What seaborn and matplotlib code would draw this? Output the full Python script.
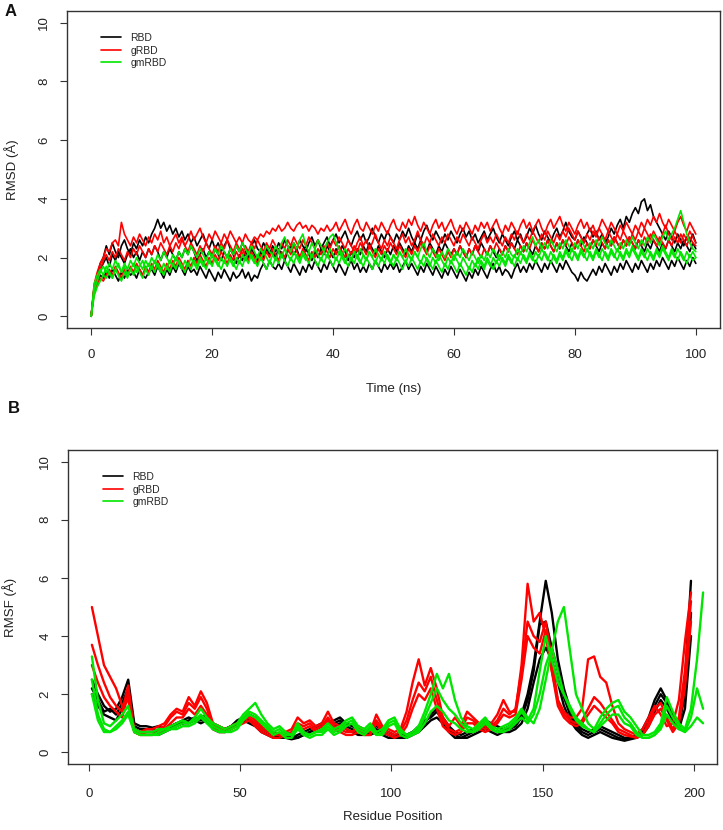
import matplotlib
matplotlib.use("Agg")
import matplotlib.pyplot as plt
import pandas as pd
import seaborn as sns
from matplotlib import font_manager
from matplotlib.lines import Line2D

# ---------------- data: panel A (RMSD, sampled every 0.5 ns) ----------------
time_ns = [i * 0.5 for i in range(201)]

rmsd_rbd_1 = [
    0.0, 1.0, 1.4, 1.8, 2.0, 2.4, 2.1, 2.5, 2.2, 2.0, 2.4, 2.6, 2.3, 2.1, 2.5, 2.3, 2.6, 2.4, 2.7, 2.5,
    2.8, 3.0, 3.3, 3.0, 3.2, 2.9, 3.1, 2.8, 3.0, 2.7, 2.9, 2.6, 2.8, 2.5, 2.7, 2.4, 2.6, 2.8, 2.5, 2.3,
    2.6, 2.3, 2.5, 2.2, 2.4, 2.6, 2.3, 2.1, 2.4, 2.2, 2.5, 2.3, 2.1, 2.4, 2.6, 2.3, 2.2, 2.5, 2.3, 2.1,
    2.4, 2.2, 2.5, 2.3, 2.6, 2.4, 2.2, 2.5, 2.3, 2.6, 2.4, 2.2, 2.5, 2.7, 2.4, 2.6, 2.3, 2.5, 2.7, 2.4,
    2.6, 2.8, 2.5, 2.7, 2.9, 2.6, 2.4, 2.7, 2.9, 2.6, 2.8, 2.5, 2.7, 3.0, 2.7, 2.5, 2.8, 2.6, 2.9, 2.7,
    2.5, 2.8, 2.6, 2.9, 2.7, 3.0, 2.7, 2.5, 2.8, 2.6, 2.9, 3.1, 2.8, 2.6, 2.9, 2.7, 2.5, 2.8, 2.6, 2.9,
    2.7, 2.5, 2.8, 3.0, 2.7, 2.9, 2.6, 2.8, 2.5, 2.7, 2.9, 2.6, 2.8, 3.0, 2.7, 2.5, 2.8, 2.6, 2.4, 2.7,
    2.9, 2.6, 2.8, 2.5, 2.7, 3.0, 2.8, 3.1, 2.8, 2.6, 2.9, 2.7, 2.5, 2.8, 3.0, 2.7, 2.9, 3.2, 2.9, 2.7,
    2.6, 2.9, 2.7, 2.5, 2.8, 3.0, 2.7, 2.9, 2.6, 2.8, 2.5, 2.7, 3.0, 2.8, 3.1, 3.3, 3.0, 3.4, 3.2, 3.5,
    3.7, 3.5, 3.9, 4.0, 3.6, 3.8, 3.4, 3.2, 3.0, 2.8, 2.6, 2.9, 2.7, 2.5, 2.8, 2.6, 2.4, 2.7, 2.5, 2.8,
    2.5]
rmsd_rbd_2 = [
    0.0, 0.9, 1.2, 1.4, 1.3, 1.5, 1.3, 1.6, 1.4, 1.2, 1.5, 1.3, 1.6, 1.4, 1.5, 1.3, 1.6, 1.4, 1.3, 1.5,
    1.6, 1.4, 1.7, 1.5, 1.3, 1.6, 1.4, 1.7, 1.5, 1.8, 1.6, 1.4, 1.7, 1.5, 1.6, 1.4, 1.7, 1.5, 1.3, 1.6,
    1.4, 1.2, 1.5, 1.3, 1.6, 1.4, 1.2, 1.5, 1.3, 1.4, 1.6, 1.3, 1.5, 1.2, 1.4, 1.3, 1.6, 1.8, 1.6, 1.9,
    1.7, 1.6, 1.8, 1.6, 1.9, 1.7, 1.5, 1.8, 1.6, 1.4, 1.7, 1.5, 1.8, 1.6, 1.9, 1.7, 1.5, 1.8, 1.6, 1.9,
    1.7, 1.5, 1.8, 1.6, 1.4, 1.7, 1.9, 1.6, 1.8, 1.5, 1.7, 1.5, 1.8, 1.6, 1.9, 1.7, 1.5, 1.8, 1.6, 1.8,
    1.6, 1.8, 1.5, 1.7, 1.9, 1.6, 1.8, 1.6, 1.4, 1.7, 1.5, 1.8, 1.6, 1.4, 1.7, 1.5, 1.3, 1.6, 1.4, 1.7,
    1.5, 1.3, 1.6, 1.4, 1.2, 1.5, 1.3, 1.6, 1.4, 1.7, 1.5, 1.3, 1.6, 1.8, 1.5, 1.7, 1.4, 1.6, 1.5, 1.3,
    1.6, 1.8, 1.5, 1.7, 1.5, 1.8, 1.6, 1.9, 1.7, 1.5, 1.8, 1.6, 1.9, 1.7, 1.5, 1.8, 1.6, 1.9, 1.7, 1.5,
    1.4, 1.2, 1.5, 1.3, 1.2, 1.4, 1.6, 1.4, 1.7, 1.5, 1.8, 1.6, 1.4, 1.7, 1.5, 1.8, 1.6, 1.9, 1.7, 1.5,
    1.8, 1.6, 1.9, 1.7, 1.5, 1.8, 1.6, 1.9, 1.7, 2.0, 1.8, 1.6, 1.9, 1.7, 2.0, 1.8, 1.6, 1.9, 1.7, 2.0,
    1.8]
rmsd_rbd_3 = [
    0.0, 1.0, 1.3, 1.6, 1.8, 2.0, 1.7, 2.1, 1.9, 2.2, 2.0, 1.8, 2.1, 2.3, 2.0, 2.2, 1.9, 2.2, 2.0, 2.3,
    2.1, 2.4, 2.2, 1.9, 2.2, 2.0, 2.3, 2.1, 1.9, 2.2, 2.0, 2.3, 2.1, 2.4, 2.2, 1.9, 2.1, 2.3, 2.0, 2.2,
    2.0, 2.3, 2.1, 1.9, 2.2, 2.0, 2.3, 2.1, 1.8, 2.1, 1.9, 2.2, 2.0, 2.3, 2.1, 1.9, 2.2, 2.0, 2.3, 2.1,
    2.2, 2.0, 2.3, 2.1, 1.9, 2.2, 2.4, 2.1, 2.3, 2.0, 2.2, 2.4, 2.1, 1.9, 2.2, 2.0, 2.3, 2.1, 2.4, 2.2,
    2.0, 2.3, 2.1, 2.4, 2.2, 1.9, 2.2, 2.0, 2.3, 2.1, 2.4, 2.2, 2.5, 2.3, 2.1, 2.4, 2.2, 2.0, 2.3, 2.1,
    2.4, 2.2, 2.5, 2.3, 2.1, 2.4, 2.2, 2.5, 2.3, 2.6, 2.4, 2.2, 2.5, 2.3, 2.1, 2.4, 2.2, 2.5, 2.3, 2.1,
    2.3, 2.1, 2.4, 2.2, 2.0, 2.3, 2.1, 2.4, 2.2, 2.5, 2.3, 2.1, 2.4, 2.2, 2.0, 2.3, 2.1, 2.4, 2.2, 2.5,
    2.3, 2.6, 2.4, 2.2, 2.5, 2.3, 2.1, 2.4, 2.2, 2.5, 2.3, 2.6, 2.4, 2.2, 2.5, 2.3, 2.6, 2.4, 2.2, 2.5,
    2.3, 2.6, 2.4, 2.7, 2.5, 2.3, 2.6, 2.4, 2.2, 2.5, 2.3, 2.6, 2.4, 2.7, 2.5, 2.3, 2.6, 2.4, 2.7, 2.5,
    2.3, 2.6, 2.4, 2.2, 2.5, 2.3, 2.6, 2.4, 2.2, 2.5, 2.3, 2.6, 2.4, 2.2, 2.5, 2.3, 2.6, 2.4, 2.2, 2.5,
    2.3]
rmsd_grbd_1 = [
    0.0, 1.1, 1.5, 1.8, 2.0, 2.3, 2.2, 2.5, 2.6, 2.4, 3.2, 2.8, 2.6, 2.4, 2.7, 2.5, 2.8, 2.6, 2.4, 2.7,
    2.5, 2.8, 2.6, 2.9, 2.5, 2.7, 2.4, 2.6, 2.8, 2.5, 2.7, 2.4, 2.6, 2.9, 2.6, 2.8, 3.0, 2.7, 2.5, 2.8,
    2.6, 2.9, 2.7, 2.5, 2.8, 2.6, 2.9, 2.7, 2.5, 2.7, 2.5, 2.8, 2.6, 2.5, 2.7, 2.6, 2.8, 2.7, 2.9, 2.8,
    3.0, 2.9, 3.1, 2.9, 3.0, 3.2, 3.0, 2.9, 3.1, 3.2, 3.0, 3.1, 2.9, 3.1, 3.0, 2.8, 3.0, 2.9, 3.1, 2.9,
    3.0, 3.2, 2.9, 3.1, 3.3, 3.0, 2.8, 3.1, 3.3, 3.0, 2.9, 3.2, 3.0, 2.8, 3.1, 2.9, 3.2, 3.0, 2.8, 3.1,
    3.3, 3.0, 2.9, 3.2, 3.0, 3.3, 3.1, 3.4, 3.1, 2.9, 3.2, 3.0, 2.8, 3.1, 3.3, 3.0, 3.2, 2.9, 3.1, 3.3,
    3.0, 2.8, 3.1, 2.9, 3.2, 3.0, 2.8, 3.1, 2.9, 3.2, 3.0, 3.2, 2.9, 3.1, 3.3, 3.0, 2.8, 3.1, 2.9, 3.2,
    3.0, 2.8, 3.1, 3.3, 3.0, 3.2, 2.9, 3.1, 3.3, 3.0, 2.8, 3.1, 3.3, 3.0, 3.2, 3.4, 3.1, 2.9, 3.2, 3.0,
    2.8, 3.1, 3.3, 3.0, 3.2, 2.9, 3.1, 2.8, 3.0, 3.3, 3.1, 2.9, 3.2, 3.0, 2.8, 3.1, 2.9, 3.2, 3.0, 2.8,
    3.1, 2.9, 3.2, 3.0, 3.3, 3.1, 3.4, 3.2, 3.5, 3.2, 3.0, 3.3, 3.1, 2.9, 3.2, 3.4, 3.1, 2.9, 3.2, 3.0,
    2.8]
rmsd_grbd_2 = [
    0.0, 1.0, 1.3, 1.6, 1.9, 2.1, 1.9, 2.2, 2.0, 2.3, 2.1, 1.9, 2.2, 2.0, 2.3, 2.1, 2.4, 2.2, 2.0, 2.3,
    2.1, 2.4, 2.2, 2.5, 2.3, 2.1, 2.4, 2.2, 2.5, 2.3, 2.6, 2.4, 2.2, 2.5, 2.3, 2.1, 2.4, 2.2, 2.5, 2.3,
    2.1, 2.4, 2.2, 2.5, 2.3, 2.6, 2.4, 2.2, 2.5, 2.3, 2.1, 2.4, 2.2, 2.5, 2.3, 2.6, 2.4, 2.2, 2.5, 2.3,
    2.6, 2.4, 2.2, 2.5, 2.3, 2.6, 2.4, 2.7, 2.5, 2.3, 2.6, 2.4, 2.7, 2.5, 2.3, 2.6, 2.4, 2.2, 2.5, 2.3,
    2.6, 2.4, 2.7, 2.5, 2.3, 2.6, 2.4, 2.2, 2.5, 2.7, 2.4, 2.6, 2.3, 2.5, 2.8, 2.5, 2.3, 2.6, 2.4, 2.7,
    2.5, 2.3, 2.6, 2.8, 2.5, 2.7, 2.4, 2.6, 2.9, 2.6, 2.4, 2.7, 2.5, 2.8, 2.6, 2.4, 2.7, 2.5, 2.8, 2.6,
    2.4, 2.7, 2.5, 2.8, 2.6, 2.4, 2.7, 2.5, 2.3, 2.6, 2.8, 2.5, 2.7, 2.5, 2.8, 2.6, 2.4, 2.7, 2.5, 2.8,
    2.6, 2.9, 2.7, 2.5, 2.8, 2.6, 2.9, 2.7, 2.5, 2.8, 2.6, 2.9, 2.7, 2.5, 2.8, 2.6, 2.9, 2.7, 3.0, 2.8,
    2.6, 2.9, 2.7, 2.5, 2.8, 2.6, 2.9, 2.7, 3.0, 2.8, 2.6, 2.9, 2.7, 2.5, 2.8, 2.6, 2.9, 2.7, 2.5, 2.8,
    2.6, 2.9, 2.7, 3.0, 2.8, 2.6, 2.9, 2.7, 2.5, 2.8, 3.1, 2.8, 2.6, 2.9, 2.7, 2.5, 2.8, 2.6, 2.9, 2.7,
    2.5]
rmsd_grbd_3 = [
    0.0, 0.8, 1.1, 1.3, 1.2, 1.4, 1.6, 1.4, 1.7, 1.5, 1.3, 1.6, 1.4, 1.7, 1.5, 1.8, 1.6, 1.4, 1.7, 1.5,
    1.8, 1.6, 1.9, 1.7, 1.5, 1.8, 1.6, 1.9, 1.7, 2.0, 1.8, 1.6, 1.9, 1.7, 2.0, 1.8, 2.1, 1.9, 1.7, 2.0,
    1.8, 2.1, 1.9, 2.2, 2.0, 1.8, 2.1, 1.9, 2.2, 2.0, 2.3, 2.1, 1.9, 2.2, 2.0, 1.8, 2.1, 1.9, 2.2, 2.0,
    2.3, 2.1, 1.9, 2.2, 2.0, 2.3, 2.1, 2.4, 2.2, 2.0, 2.3, 2.1, 1.9, 2.2, 2.0, 2.3, 2.1, 2.4, 2.2, 2.0,
    2.3, 2.1, 2.4, 2.2, 2.0, 2.3, 2.1, 2.4, 2.2, 2.5, 2.3, 2.1, 2.4, 2.2, 2.0, 2.3, 2.1, 2.4, 2.2, 2.5,
    2.3, 2.1, 2.4, 2.2, 2.0, 2.3, 2.1, 2.4, 2.2, 2.5, 2.3, 2.1, 2.4, 2.2, 2.0, 2.3, 2.1, 1.9, 2.2, 2.0,
    2.3, 2.1, 2.4, 2.2, 2.0, 2.3, 2.1, 2.4, 2.2, 2.0, 2.3, 2.1, 2.4, 2.2, 2.5, 2.3, 2.1, 2.4, 2.2, 2.5,
    2.3, 2.1, 2.4, 2.2, 2.5, 2.3, 2.6, 2.4, 2.2, 2.5, 2.3, 2.6, 2.4, 2.2, 2.5, 2.3, 2.6, 2.4, 2.7, 2.5,
    2.3, 2.6, 2.4, 2.2, 2.5, 2.3, 2.6, 2.4, 2.7, 2.5, 2.3, 2.6, 2.4, 2.7, 2.5, 2.3, 2.6, 2.4, 2.7, 2.5,
    2.3, 2.6, 2.4, 2.7, 2.5, 2.8, 2.6, 2.4, 2.7, 2.5, 2.3, 2.6, 2.4, 2.7, 2.5, 2.8, 2.6, 2.4, 2.7, 2.5,
    2.4]
rmsd_gmrbd_1 = [
    0.0, 0.9, 1.2, 1.5, 1.7, 1.5, 1.8, 1.6, 1.9, 1.7, 1.5, 1.8, 1.6, 1.9, 1.7, 2.0, 1.8, 1.6, 1.9, 1.7,
    2.0, 1.8, 2.1, 1.9, 2.2, 2.0, 1.8, 2.1, 1.9, 2.2, 2.0, 2.3, 2.1, 2.4, 2.2, 2.0, 2.3, 2.1, 1.9, 2.2,
    2.0, 2.3, 2.1, 2.4, 2.2, 2.0, 2.3, 2.1, 2.4, 2.2, 2.5, 2.3, 2.1, 2.4, 2.2, 2.0, 2.3, 2.1, 2.4, 2.2,
    2.1, 2.4, 2.2, 2.5, 2.7, 2.4, 2.2, 2.5, 2.3, 2.6, 2.8, 2.4, 2.2, 2.5, 2.3, 2.6, 2.4, 2.2, 2.5, 2.7,
    2.8, 2.5, 2.3, 2.1, 2.3, 2.1, 1.9, 2.2, 2.0, 2.3, 2.1, 1.9, 2.2, 2.0, 2.3, 2.1, 1.9, 2.2, 2.0, 1.8,
    2.1, 1.9, 2.2, 2.0, 2.3, 2.1, 1.9, 2.2, 2.0, 2.3, 2.5, 2.2, 2.0, 2.3, 2.1, 1.9, 2.2, 2.0, 2.3, 2.1,
    1.9, 2.2, 2.0, 2.3, 2.1, 1.9, 2.2, 2.0, 1.8, 2.1, 1.9, 2.2, 2.0, 2.3, 2.1, 1.9, 2.2, 2.0, 2.3, 2.1,
    2.0, 2.3, 2.1, 2.4, 2.2, 2.5, 2.7, 2.4, 2.6, 2.3, 2.5, 2.3, 2.6, 2.4, 2.2, 2.5, 2.3, 2.6, 2.4, 2.2,
    2.5, 2.3, 2.6, 2.4, 2.2, 2.5, 2.3, 2.6, 2.4, 2.7, 2.5, 2.3, 2.6, 2.4, 2.2, 2.5, 2.3, 2.6, 2.4, 2.7,
    2.5, 2.3, 2.6, 2.4, 2.7, 2.5, 2.8, 2.6, 2.4, 2.7, 2.9, 2.6, 2.8, 3.0, 3.3, 3.6, 3.2, 2.8, 2.5, 2.3,
    2.2]
rmsd_gmrbd_2 = [
    0.0, 1.1, 1.4, 1.6, 1.4, 1.7, 1.5, 1.3, 1.6, 1.8, 1.5, 1.7, 1.4, 1.6, 1.8, 1.5, 1.7, 1.9, 1.6, 1.8,
    1.6, 1.9, 1.7, 1.5, 1.8, 1.6, 1.9, 1.7, 2.0, 1.8, 1.6, 1.9, 1.7, 2.0, 1.8, 1.6, 1.9, 1.7, 2.0, 1.8,
    2.1, 1.9, 1.7, 2.0, 1.8, 2.1, 1.9, 1.7, 2.0, 1.8, 2.1, 1.9, 2.2, 2.0, 1.8, 2.1, 1.9, 2.2, 2.0, 1.8,
    2.1, 1.9, 2.2, 2.0, 2.3, 2.1, 1.9, 2.2, 2.0, 1.8, 2.1, 1.9, 2.2, 2.0, 2.3, 2.1, 1.9, 2.2, 2.0, 2.3,
    2.1, 1.9, 2.2, 2.0, 1.8, 2.1, 1.9, 2.2, 2.0, 1.8, 2.1, 1.9, 2.2, 2.0, 1.8, 2.1, 1.9, 2.2, 2.0, 1.8,
    2.1, 1.9, 2.2, 2.0, 1.8, 2.1, 1.9, 2.2, 2.0, 1.8, 2.1, 1.9, 1.7, 2.0, 1.8, 2.1, 1.9, 1.7, 2.0, 1.8,
    2.1, 1.9, 1.7, 2.0, 1.8, 1.6, 1.9, 1.7, 2.0, 1.8, 1.6, 1.9, 1.7, 2.0, 1.8, 2.1, 1.9, 1.7, 2.0, 1.8,
    2.1, 1.9, 2.2, 2.0, 1.8, 2.1, 1.9, 2.2, 2.0, 2.3, 2.1, 1.9, 2.2, 2.0, 1.8, 2.1, 1.9, 2.2, 2.0, 2.3,
    2.1, 1.9, 2.2, 2.0, 2.3, 2.1, 1.9, 2.2, 2.0, 2.3, 2.1, 1.9, 2.2, 2.0, 2.3, 2.1, 1.9, 2.2, 2.0, 2.3,
    2.1, 1.9, 2.2, 2.0, 2.3, 2.1, 1.9, 2.2, 2.0, 2.3, 2.1, 1.9, 2.2, 2.0, 2.3, 2.1, 1.9, 2.2, 2.0, 2.2,
    2.0]
rmsd_gmrbd_3 = [
    0.0, 0.7, 1.0, 1.2, 1.4, 1.3, 1.5, 1.3, 1.6, 1.4, 1.2, 1.5, 1.3, 1.6, 1.4, 1.7, 1.5, 1.3, 1.6, 1.4,
    1.7, 1.5, 1.8, 1.6, 1.4, 1.7, 1.5, 1.8, 1.6, 1.9, 1.7, 1.5, 1.8, 1.6, 1.9, 1.7, 2.0, 1.8, 1.6, 1.9,
    1.7, 2.0, 1.8, 1.6, 1.9, 1.7, 2.0, 1.8, 1.6, 1.9, 1.7, 2.0, 1.8, 2.1, 1.9, 1.7, 2.0, 1.8, 1.6, 1.9,
    1.7, 2.0, 1.8, 2.1, 1.9, 1.7, 2.0, 1.8, 2.1, 1.9, 2.2, 2.0, 1.8, 2.1, 1.9, 1.7, 2.0, 1.8, 2.1, 1.9,
    1.7, 2.0, 1.8, 2.1, 1.9, 1.7, 2.0, 1.8, 2.1, 1.9, 1.7, 2.0, 1.8, 1.6, 1.9, 1.7, 2.0, 1.8, 2.1, 1.9,
    1.7, 2.0, 1.8, 1.6, 1.9, 1.7, 2.0, 1.8, 1.6, 1.9, 1.7, 2.0, 1.8, 1.6, 1.9, 1.7, 1.5, 1.8, 1.6, 1.9,
    1.7, 1.5, 1.8, 1.6, 1.4, 1.7, 1.5, 1.8, 1.6, 1.9, 1.7, 2.0, 1.8, 1.6, 1.9, 1.7, 2.0, 1.8, 2.1, 1.9,
    1.7, 2.0, 1.8, 2.1, 1.9, 2.2, 2.0, 1.8, 2.1, 1.9, 2.2, 2.0, 1.8, 2.1, 1.9, 2.2, 2.0, 2.3, 2.1, 1.9,
    2.2, 2.0, 2.3, 2.1, 1.9, 2.2, 2.0, 2.3, 2.1, 1.9, 2.2, 2.0, 2.3, 2.1, 1.9, 2.2, 2.0, 2.3, 2.1, 2.4,
    2.2, 2.0, 2.3, 2.1, 1.9, 2.2, 2.0, 2.3, 2.1, 2.4, 2.2, 2.0, 2.3, 2.1, 1.9, 2.2, 2.0, 1.8, 2.1, 1.9,
    2.0]

# ---------------- data: panel B (RMSF) ----------------
residues_rbd = list(range(1, 200, 2))     # RBD and gRBD
residues_gmrbd = list(range(1, 204, 2))   # gmRBD

rmsf_rbd_1 = [2.5, 2.0, 1.6, 1.4, 1.5, 1.9, 2.5, 1.0, 0.9, 0.9,
              0.85, 0.9, 0.8, 0.9, 1.0, 1.1, 1.2, 1.1, 1.2, 1.3,
              1.0, 0.9, 0.8, 0.9, 1.0, 1.1, 1.3, 1.2, 0.9, 0.8,
              0.6, 0.6, 0.7, 0.6, 0.5, 0.6, 0.7, 0.8, 0.9, 1.0,
              1.1, 1.2, 1.0, 0.9, 0.8, 0.7, 0.8, 0.9, 0.8, 0.7,
              0.6, 0.6, 0.6, 0.7, 0.8, 1.0, 1.3, 1.5, 1.2, 0.9,
              0.7, 0.6, 0.7, 0.8, 0.9, 1.1, 1.0, 0.9, 0.8, 0.9,
              1.0, 1.3, 2.0, 3.0, 4.5, 5.9, 4.8, 3.2, 2.2, 1.5,
              1.0, 0.8, 0.7, 0.8, 0.9, 0.8, 0.7, 0.6, 0.5, 0.5,
              0.6, 0.8, 1.2, 1.8, 2.2, 1.8, 1.3, 1.0, 2.5, 5.9]
rmsf_rbd_2 = [2.2, 1.8, 1.4, 1.5, 1.3, 1.7, 2.2, 0.9, 0.8, 0.8,
              0.8, 0.7, 0.8, 0.9, 1.0, 1.0, 1.1, 1.2, 1.1, 1.2,
              0.9, 0.8, 0.8, 0.9, 1.1, 1.2, 1.1, 1.0, 0.8, 0.7,
              0.6, 0.5, 0.6, 0.5, 0.6, 0.7, 0.8, 0.9, 1.0, 1.1,
              1.0, 1.1, 0.9, 0.8, 0.7, 0.6, 0.7, 0.8, 0.7, 0.6,
              0.5, 0.5, 0.6, 0.7, 0.9, 1.1, 1.2, 1.4, 1.1, 0.8,
              0.6, 0.5, 0.6, 0.7, 0.8, 0.9, 0.8, 0.7, 0.8, 0.8,
              0.9, 1.2, 1.8, 2.8, 4.4, 4.5, 3.6, 2.8, 1.9, 1.3,
              0.9, 0.7, 0.6, 0.7, 0.8, 0.7, 0.6, 0.5, 0.45, 0.5,
              0.5, 0.7, 1.0, 1.6, 2.0, 1.7, 1.2, 0.9, 2.0, 4.8]
rmsf_rbd_3 = [2.0, 1.6, 1.3, 1.2, 1.1, 1.5, 2.0, 0.8, 0.7, 0.7,
              0.7, 0.6, 0.7, 0.8, 0.9, 1.0, 1.0, 1.1, 1.0, 1.1,
              0.8, 0.7, 0.7, 0.8, 1.0, 1.1, 1.0, 0.9, 0.7, 0.6,
              0.5, 0.5, 0.5, 0.45, 0.5, 0.6, 0.7, 0.8, 0.9, 1.0,
              0.9, 1.0, 0.8, 0.7, 0.6, 0.6, 0.6, 0.7, 0.6, 0.5,
              0.5, 0.5, 0.5, 0.6, 0.7, 0.9, 1.1, 1.2, 1.0, 0.7,
              0.5, 0.5, 0.5, 0.6, 0.7, 0.8, 0.7, 0.6, 0.7, 0.7,
              0.8, 1.0, 1.5, 2.4, 3.2, 3.6, 3.2, 2.4, 1.6, 1.1,
              0.8, 0.6, 0.5, 0.6, 0.7, 0.6, 0.5, 0.45, 0.4, 0.45,
              0.5, 0.6, 0.9, 1.4, 1.8, 1.5, 1.1, 0.8, 1.5, 4.0]
rmsf_grbd_1 = [5.0, 4.0, 3.0, 2.6, 2.2, 1.6, 1.8, 0.8, 0.7, 0.8,
               0.8, 0.9, 1.0, 1.3, 1.5, 1.4, 1.9, 1.6, 2.1, 1.7,
               1.0, 0.9, 0.8, 0.9, 1.0, 1.2, 1.3, 1.1, 0.9, 0.8,
               0.7, 0.6, 0.7, 0.8, 1.2, 1.0, 1.1, 0.9, 1.0, 1.4,
               1.0, 0.9, 0.8, 0.7, 0.9, 0.8, 0.7, 1.3, 0.9, 0.8,
               0.7, 0.8, 1.4, 2.4, 3.2, 2.3, 2.9, 2.2, 1.2, 0.9,
               1.2, 0.9, 1.4, 1.2, 1.0, 0.9, 1.0, 1.3, 1.8, 1.4,
               1.4, 3.0, 5.8, 4.5, 4.8, 4.0, 2.8, 1.8, 1.4, 1.2,
               1.2, 1.5, 3.2, 3.3, 2.6, 2.4, 1.6, 1.0, 0.8, 0.7,
               0.6, 0.8, 1.2, 1.6, 1.3, 0.9, 1.0, 1.8, 3.8, 5.5]
rmsf_grbd_2 = [3.7, 3.0, 2.4, 1.9, 1.6, 1.4, 2.3, 0.7, 0.6, 0.7,
               0.7, 0.8, 0.9, 1.2, 1.4, 1.3, 1.7, 1.5, 1.9, 1.5,
               0.9, 0.8, 0.8, 0.9, 1.0, 1.1, 1.2, 1.0, 0.8, 0.7,
               0.6, 0.6, 0.6, 0.7, 1.0, 0.9, 1.0, 0.8, 0.9, 1.2,
               0.9, 0.8, 0.7, 0.7, 0.8, 0.7, 0.7, 1.1, 0.8, 0.7,
               0.6, 0.7, 1.1, 1.8, 2.4, 2.1, 2.6, 1.8, 1.1, 0.8,
               0.7, 0.8, 1.2, 1.1, 0.9, 0.8, 0.9, 1.1, 1.5, 1.3,
               1.5, 2.8, 4.5, 4.0, 3.8, 4.5, 3.2, 1.8, 1.3, 1.1,
               1.0, 1.1, 1.5, 1.9, 1.7, 1.4, 1.1, 0.8, 0.7, 0.6,
               0.5, 0.6, 1.0, 1.5, 1.7, 1.2, 0.8, 1.2, 2.8, 5.2]
rmsf_grbd_3 = [3.0, 2.4, 1.9, 1.6, 1.4, 1.2, 2.0, 0.7, 0.6, 0.6,
               0.6, 0.7, 0.8, 1.0, 1.2, 1.2, 1.5, 1.3, 1.6, 1.3,
               0.8, 0.7, 0.7, 0.8, 0.9, 1.0, 1.1, 0.9, 0.7, 0.6,
               0.5, 0.5, 0.6, 0.6, 0.9, 0.8, 0.9, 0.7, 0.8, 1.1,
               0.8, 0.7, 0.6, 0.6, 0.7, 0.6, 0.6, 1.0, 0.7, 0.6,
               0.5, 0.6, 0.9, 1.5, 2.0, 1.8, 2.2, 1.5, 0.9, 0.7,
               0.6, 0.7, 1.0, 1.0, 0.8, 0.7, 0.8, 1.0, 1.3, 1.2,
               1.3, 2.5, 4.0, 3.6, 3.4, 4.2, 2.8, 1.6, 1.2, 1.0,
               0.9, 1.0, 1.3, 1.6, 1.4, 1.2, 1.0, 0.7, 0.6, 0.55,
               0.5, 0.6, 0.9, 1.3, 1.5, 1.1, 0.7, 1.0, 2.2, 4.5]
rmsf_gmrbd_1 = [3.3, 1.8, 1.0, 0.9, 1.1, 1.3, 1.6, 0.8, 0.7, 0.7,
                0.7, 0.8, 0.8, 0.9, 1.0, 1.1, 1.0, 1.2, 1.5, 1.2,
                1.0, 0.9, 0.8, 0.9, 1.0, 1.3, 1.5, 1.7, 1.3, 1.0,
                0.8, 0.9, 0.7, 0.6, 1.0, 0.7, 0.6, 0.7, 0.8, 1.0,
                0.8, 0.9, 1.1, 1.2, 0.9, 0.8, 1.0, 0.7, 0.8, 1.1,
                1.2, 0.8, 0.6, 0.7, 0.9, 1.4, 2.0, 2.7, 2.2, 2.7,
                1.8, 1.2, 0.9, 0.8, 1.0, 1.2, 0.9, 0.8, 0.9, 1.0,
                1.2, 1.5, 1.2, 1.0, 1.5, 2.5, 3.5, 4.5, 5.0, 3.5,
                2.0, 1.5, 1.0, 0.8, 1.2, 1.5, 1.7, 1.8, 1.4, 1.2,
                0.9, 0.6, 0.6, 0.7, 1.0, 1.9, 1.4, 1.0, 0.8, 1.5,
                3.2, 5.5]
rmsf_gmrbd_2 = [2.5, 1.3, 0.8, 0.7, 0.9, 1.1, 1.4, 0.7, 0.6, 0.6,
                0.6, 0.7, 0.8, 0.8, 0.9, 1.0, 1.0, 1.1, 1.3, 1.1,
                0.9, 0.8, 0.7, 0.8, 0.9, 1.2, 1.4, 1.3, 1.1, 0.9,
                0.7, 0.8, 0.6, 0.6, 0.9, 0.6, 0.6, 0.7, 0.7, 0.9,
                0.7, 0.8, 1.0, 1.1, 0.8, 0.7, 0.9, 0.6, 0.7, 1.0,
                1.1, 0.7, 0.6, 0.6, 0.8, 1.2, 1.7, 2.2, 1.8, 1.5,
                1.3, 1.0, 0.8, 0.7, 0.9, 1.1, 0.8, 0.7, 0.8, 0.9,
                1.1, 1.4, 1.1, 1.5, 2.8, 4.0, 3.2, 2.4, 2.0, 1.6,
                1.2, 1.0, 0.8, 0.7, 1.0, 1.3, 1.5, 1.6, 1.2, 1.0,
                0.7, 0.5, 0.5, 0.6, 0.9, 1.6, 1.2, 0.9, 0.7, 1.2,
                2.2, 1.5]
rmsf_gmrbd_3 = [2.0, 1.1, 0.7, 0.7, 0.8, 1.0, 1.3, 0.7, 0.6, 0.6,
                0.6, 0.6, 0.7, 0.8, 0.8, 0.9, 0.9, 1.0, 1.2, 1.0,
                0.8, 0.7, 0.7, 0.7, 0.8, 1.1, 1.3, 1.2, 1.0, 0.8,
                0.6, 0.7, 0.5, 0.5, 0.8, 0.6, 0.5, 0.6, 0.6, 0.8,
                0.6, 0.7, 0.9, 1.0, 0.7, 0.6, 0.8, 0.6, 0.6, 0.9,
                1.0, 0.6, 0.5, 0.6, 0.7, 1.0, 1.4, 1.6, 1.4, 1.1,
                1.0, 0.8, 0.7, 0.7, 0.8, 1.0, 0.8, 0.7, 0.7, 0.8,
                1.0, 1.2, 1.0, 1.3, 2.0, 3.0, 3.6, 2.8, 2.0, 1.5,
                1.1, 0.9, 0.8, 0.7, 0.9, 1.1, 1.3, 1.3, 1.0, 0.9,
                0.6, 0.5, 0.5, 0.6, 0.8, 1.3, 1.0, 0.8, 0.7, 0.9,
                1.2, 1.0]

groups = ["RBD", "gRBD", "gmRBD"]
colors = ["#000000", "#FF0000", "#00E600"]

# ---------------- build long tables ----------------
def long_table(xname, yname, xs_by_group, series_by_group):
    rows = []
    for g in groups:
        xs = xs_by_group[g]
        for rep, ys in enumerate(series_by_group[g], start=1):
            for x, y in zip(xs, ys):
                rows.append((g, rep, x, y))
    return pd.DataFrame(rows, columns=["Group", "Rep", xname, yname])

df_a = long_table("Time", "RMSD",
                  {g: time_ns for g in groups},
                  {"RBD": [rmsd_rbd_1, rmsd_rbd_2, rmsd_rbd_3],
                   "gRBD": [rmsd_grbd_1, rmsd_grbd_2, rmsd_grbd_3],
                   "gmRBD": [rmsd_gmrbd_1, rmsd_gmrbd_2, rmsd_gmrbd_3]})
df_b = long_table("Residue", "RMSF",
                  {"RBD": residues_rbd, "gRBD": residues_rbd, "gmRBD": residues_gmrbd},
                  {"RBD": [rmsf_rbd_1, rmsf_rbd_2, rmsf_rbd_3],
                   "gRBD": [rmsf_grbd_1, rmsf_grbd_2, rmsf_grbd_3],
                   "gmRBD": [rmsf_gmrbd_1, rmsf_gmrbd_2, rmsf_gmrbd_3]})

# ---------------- style ----------------
sns.set_theme(style="ticks")
available = {f.name for f in font_manager.fontManager.ttflist}
base_font = "Liberation Sans" if "Liberation Sans" in available else "DejaVu Sans"
plt.rcParams["font.family"] = [base_font, "DejaVu Sans"]

palette = dict(zip(groups, colors))
ink = "#222222"

fig = plt.figure(figsize=(7.23, 8.30), dpi=100)
W, H = 723, 830
ax_a = fig.add_axes([67 / W, 1 - 328 / H, (720 - 67) / W, (328 - 11) / H])
ax_b = fig.add_axes([68 / W, 1 - 764 / H, (717 - 68) / W, (764 - 450) / H])

sns.lineplot(data=df_a, x="Time", y="RMSD", hue="Group", units="Rep",
             estimator=None, sort=False, palette=palette, hue_order=groups,
             linewidth=1.2, legend=False, ax=ax_a)
sns.lineplot(data=df_b, x="Residue", y="RMSF", hue="Group", units="Rep",
             estimator=None, sort=False, palette=palette, hue_order=groups,
             linewidth=1.7, legend=False, ax=ax_b)

def style_axes(ax, xlim, xticks, xlabel, ylabel, xpad, xlab_y, ylab_x, leg_anchor):
    ax.set_xlim(*xlim)
    ax.set_ylim(-0.4, 10.4)
    ax.set_xticks(xticks)
    ax.set_yticks([0, 2, 4, 6, 8, 10])
    for s in ax.spines.values():
        s.set_visible(True)
        s.set_color("#333333")
        s.set_linewidth(1.0)
    ax.tick_params(direction="out", length=5, width=0.8, color="#333333",
                   labelcolor=ink, labelsize=9.5)
    ax.tick_params(axis="x", pad=xpad)
    ax.tick_params(axis="y", pad=7)
    for lab in ax.get_yticklabels():
        lab.set_rotation(90)
        lab.set_va("center")
    ax.set_xlabel(xlabel, fontsize=9.5, color=ink)
    ax.set_ylabel(ylabel, fontsize=9.5, color=ink)
    ax.xaxis.set_label_coords(0.5, xlab_y)
    ax.yaxis.set_label_coords(ylab_x, 0.5)
    handles = [Line2D([0], [0], color=c, lw=1.2) for c in colors]
    ax.legend(handles, groups, loc="upper left", bbox_to_anchor=leg_anchor,
              frameon=False, fontsize=7.5, handlelength=1.9, handletextpad=0.9,
              labelspacing=0.24, borderpad=0, borderaxespad=0)

style_axes(ax_a, (-4, 104), [0, 20, 40, 60, 80, 100], "Time (ns)", "RMSD (Å)",
           10, -0.175, -0.0735, ((101 - 67) / 653, 1 - (33 - 11) / 317))
style_axes(ax_b, (-6.9, 207.6), [0, 50, 100, 150, 200], "Residue Position", "RMSF (Å)",
           12, -0.15, -0.0786, ((103 - 68) / 649, 1 - (472 - 450) / 314))

fig.text(5 / W, 1 - 11 / H, "A", fontsize=12, fontweight="bold", color="#111111",
         ha="left", va="center")
fig.text(8 / W, 1 - 408 / H, "B", fontsize=12, fontweight="bold", color="#111111",
         ha="left", va="center")

fig.savefig("out.png", dpi=100)
